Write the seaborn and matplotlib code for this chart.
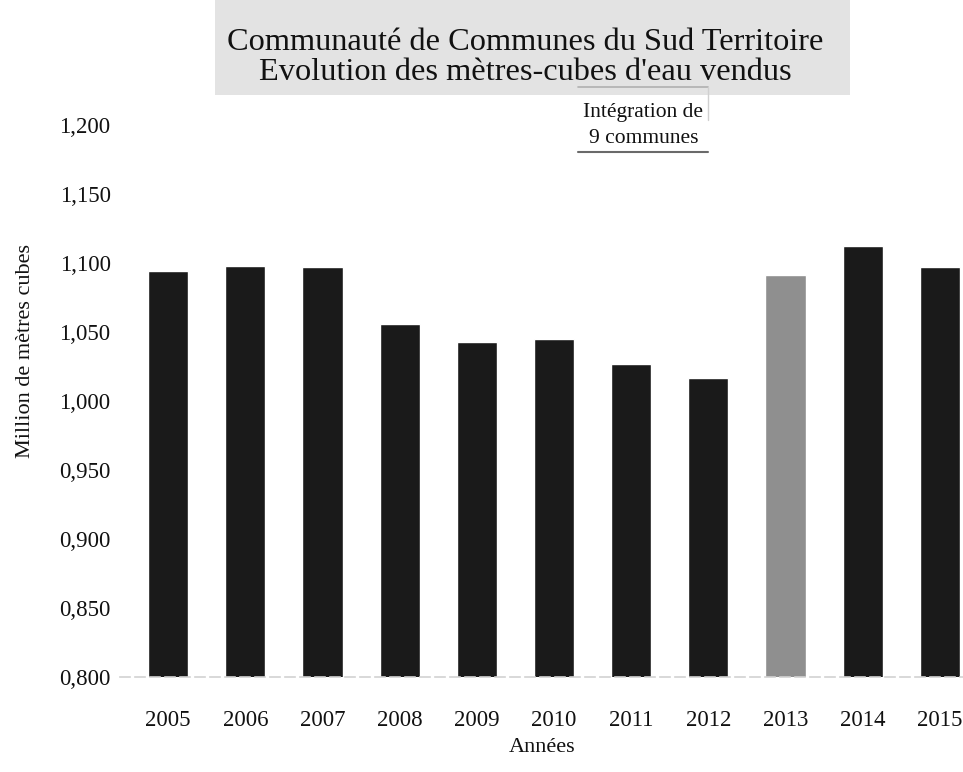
# volumes d'eau vendus - barres par annee
import matplotlib
matplotlib.use('Agg')
from matplotlib import pyplot as plt
from matplotlib.lines import Line2D
from matplotlib.patches import Rectangle
from matplotlib.ticker import FuncFormatter
import seaborn as sns
import pandas as pd

# donnees
annees = ['2005', '2006', '2007', '2008', '2009', '2010', '2011', '2012', '2013', '2014', '2015']
volumes = [1.094, 1.098, 1.097, 1.056, 1.043, 1.045, 1.027, 1.017, 1.091, 1.112, 1.097]
annee_integration = '2013'

df = pd.DataFrame({'annee': annees, 'volume': volumes})

sns.set_theme(style='white')
plt.rcParams['font.family'] = ['Liberation Serif', 'DejaVu Serif']

fig = plt.figure(figsize=(9.63, 7.72), dpi=100)
ax = fig.add_axes([0.125, 0.123, 0.875, 0.715])

couleurs = {a: ('#8f8f8f' if a == annee_integration else '#1a1a1a') for a in annees}
sns.barplot(data=df, x='annee', y='volume', hue='annee', palette=couleurs,
            width=0.52, legend=False, saturation=1, ax=ax)

ax.set_ylim(0.8, 1.2)
ax.set_xlim(-0.62, 10.3)
ax.set_yticks([0.80, 0.85, 0.90, 0.95, 1.00, 1.05, 1.10, 1.15, 1.20])
ax.yaxis.set_major_formatter(FuncFormatter(lambda v, p: f'{v:.3f}'.replace('.', ',')))
ax.tick_params(axis='y', labelsize=16.5, pad=7, length=0, colors='#111111')
ax.tick_params(axis='x', labelsize=16.5, pad=24, length=0, colors='#111111')

for s in ['top', 'right', 'left']:
    ax.spines[s].set_visible(False)
ax.spines['bottom'].set_color('#d2d2d2')
ax.spines['bottom'].set_linestyle((0, (6, 3)))
ax.spines['bottom'].set_linewidth(1.2)

ax.set_xlabel('Années', fontsize=16, labelpad=5, color='#111111')
ax.set_ylabel('Million de mètres cubes', fontsize=16, color='#111111')
ax.yaxis.set_label_coords(-0.101, 0.59)

# fond gris du titre
fig.add_artist(Rectangle((0.223, 0.877), 0.66, 0.123, transform=fig.transFigure,
                         facecolor='#e3e3e3', edgecolor='none', zorder=0))
fig.text(0.545, 0.926,
         'Communauté de Communes du Sud Territoire\nEvolution des mètres-cubes d\'eau vendus',
         ha='center', va='center', fontsize=23.3, linespacing=1.05, color='#111111', zorder=2)

# annotation integration
fig.text(0.668, 0.838, 'Intégration de\n9 communes', ha='center', va='center',
         fontsize=15.5, linespacing=1.5, color='#111111', zorder=3,
         bbox=dict(facecolor='white', edgecolor='none', pad=1))
fig.add_artist(Line2D([0.600, 0.735], [0.887, 0.887], color='#b0b0b0', lw=1.2, zorder=4))
fig.add_artist(Line2D([0.600, 0.735], [0.803, 0.803], color='#6a6a6a', lw=1.5, zorder=4))
fig.add_artist(Line2D([0.735, 0.735], [0.887, 0.845], color='#d0d0d0', lw=1.0, zorder=4))

fig.savefig('out.png', dpi=100)
